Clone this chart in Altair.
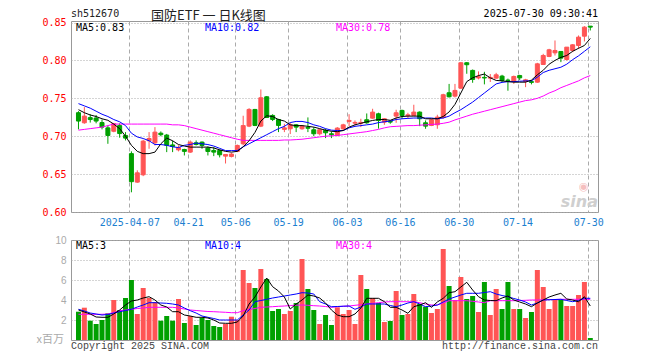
import altair as alt
import pandas as pd

# ---------------- data ----------------
dates = [
    '2025-03-24', '2025-03-25', '2025-03-26', '2025-03-27', '2025-03-28', '2025-03-31',
    '2025-04-01', '2025-04-02', '2025-04-03', '2025-04-07', '2025-04-08', '2025-04-09',
    '2025-04-10', '2025-04-11', '2025-04-14', '2025-04-15', '2025-04-16', '2025-04-17',
    '2025-04-18', '2025-04-21', '2025-04-22', '2025-04-23', '2025-04-24', '2025-04-25',
    '2025-04-28', '2025-04-29', '2025-04-30', '2025-05-06', '2025-05-07', '2025-05-08',
    '2025-05-09', '2025-05-12', '2025-05-13', '2025-05-14', '2025-05-15', '2025-05-16',
    '2025-05-19', '2025-05-20', '2025-05-21', '2025-05-22', '2025-05-23', '2025-05-26',
    '2025-05-27', '2025-05-28', '2025-05-29', '2025-05-30', '2025-06-03', '2025-06-04',
    '2025-06-05', '2025-06-06', '2025-06-09', '2025-06-10', '2025-06-11', '2025-06-12',
    '2025-06-13', '2025-06-16', '2025-06-17', '2025-06-18', '2025-06-19', '2025-06-20',
    '2025-06-23', '2025-06-24', '2025-06-25', '2025-06-26', '2025-06-27', '2025-06-30',
    '2025-07-01', '2025-07-02', '2025-07-03', '2025-07-04', '2025-07-07', '2025-07-08',
    '2025-07-09', '2025-07-10', '2025-07-11', '2025-07-14', '2025-07-15', '2025-07-16',
    '2025-07-17', '2025-07-18', '2025-07-21', '2025-07-22', '2025-07-23', '2025-07-24',
    '2025-07-25', '2025-07-28', '2025-07-29', '2025-07-30',
]

open_ = [
    0.731, 0.7177, 0.7245, 0.724, 0.718, 0.711, 0.7065, 0.714, 0.701, 0.677,
    0.6394, 0.6491, 0.694, 0.6913, 0.704, 0.7015, 0.6885, 0.682, 0.6825, 0.679,
    0.6913, 0.6922, 0.6843, 0.6812, 0.6812, 0.6737, 0.6733, 0.6799, 0.690, 0.7133,
    0.7353, 0.7133, 0.752, 0.7274, 0.722, 0.709, 0.7098, 0.715, 0.7098, 0.7115,
    0.7085, 0.7032, 0.7076, 0.7032, 0.701, 0.7098, 0.7195, 0.7172, 0.7172, 0.7217,
    0.7238, 0.7296, 0.7186, 0.7195, 0.7265, 0.734, 0.7272, 0.7274, 0.7318, 0.7177,
    0.7142, 0.7151, 0.7248, 0.7573, 0.7529, 0.7634, 0.7969, 0.7868, 0.7768, 0.7776,
    0.7766, 0.7766, 0.7793, 0.774, 0.7722, 0.780, 0.7722, 0.772, 0.7713, 0.7946,
    0.8052, 0.810, 0.8118, 0.8012, 0.8131, 0.8197, 0.832, 0.8452,
]
high = [
    0.733, 0.7384, 0.729, 0.728, 0.722, 0.714, 0.7175, 0.717, 0.7054, 0.680,
    0.655, 0.6953, 0.7054, 0.712, 0.7063, 0.703, 0.694, 0.688, 0.6834, 0.6944,
    0.6944, 0.6931, 0.6865, 0.6856, 0.6825, 0.6759, 0.678, 0.689, 0.727, 0.737,
    0.736, 0.7617, 0.753, 0.729, 0.723, 0.7164, 0.7177, 0.716, 0.7142, 0.7248,
    0.712, 0.710, 0.7098, 0.7063, 0.712, 0.7164, 0.729, 0.7208, 0.723, 0.730,
    0.7362, 0.731, 0.7239, 0.7208, 0.7349, 0.735, 0.7309, 0.7415, 0.7327, 0.7208,
    0.723, 0.7283, 0.756, 0.769, 0.769, 0.7978, 0.7978, 0.788, 0.7855, 0.785,
    0.782, 0.7836, 0.781, 0.776, 0.780, 0.781, 0.7757, 0.774, 0.7968, 0.8087,
    0.8153, 0.8263, 0.8118, 0.8175, 0.8215, 0.8329, 0.8452, 0.8452,
]
low = [
    0.709, 0.7164, 0.718, 0.717, 0.709, 0.690, 0.7052, 0.698, 0.6944, 0.626,
    0.6385, 0.6473, 0.6834, 0.6878, 0.700, 0.679, 0.679, 0.680, 0.6746, 0.678,
    0.6878, 0.6834, 0.6746, 0.6737, 0.672, 0.664, 0.672, 0.679, 0.688, 0.712,
    0.7133, 0.712, 0.724, 0.720, 0.7054, 0.7054, 0.7028, 0.7054, 0.7085, 0.7054,
    0.700, 0.701, 0.6975, 0.6975, 0.700, 0.7076, 0.7133, 0.7142, 0.712, 0.7164,
    0.723, 0.710, 0.715, 0.7164, 0.7177, 0.723, 0.7239, 0.7265, 0.7133, 0.7098,
    0.7133, 0.7098, 0.723, 0.7511, 0.7511, 0.7625, 0.7824, 0.7705, 0.775, 0.7684,
    0.7715, 0.7758, 0.7713, 0.760, 0.769, 0.774, 0.7647, 0.7684, 0.7704, 0.794,
    0.8043, 0.8065, 0.7977, 0.7999, 0.8109, 0.8153, 0.825, 0.8395,
]
close = [
    0.720, 0.7265, 0.722, 0.720, 0.712, 0.701, 0.7166, 0.7035, 0.6975, 0.640,
    0.6517, 0.6935, 0.697, 0.7054, 0.702, 0.688, 0.6865, 0.685, 0.680, 0.6922,
    0.6891, 0.6878, 0.6799, 0.679, 0.6755, 0.6759, 0.6764, 0.6878, 0.714, 0.7353,
    0.7142, 0.7507, 0.7247, 0.7221, 0.7142, 0.711, 0.715, 0.712, 0.7133, 0.7105,
    0.7032, 0.7085, 0.7045, 0.702, 0.7107, 0.715, 0.7208, 0.7182, 0.7182, 0.7177,
    0.7318, 0.7208, 0.723, 0.7186, 0.7309, 0.7274, 0.7282, 0.7318, 0.723, 0.7133,
    0.7217, 0.7252, 0.7547, 0.752, 0.7604, 0.7969, 0.7943, 0.7749, 0.7785, 0.7768,
    0.7776, 0.781, 0.7736, 0.7736, 0.7788, 0.777, 0.7744, 0.771, 0.7955, 0.8065,
    0.814, 0.8131, 0.803, 0.8175, 0.8206, 0.8307, 0.8439, 0.8439,
]
ma5 = [
    0.735, 0.731, 0.728, 0.726, 0.723, 0.721, 0.716, 0.710, 0.700, 0.688,
    0.680, 0.677, 0.677, 0.679, 0.690, 0.6975, 0.694, 0.689, 0.687, 0.6856,
    0.6856, 0.6856, 0.6856, 0.6845, 0.682, 0.680, 0.679, 0.680, 0.686, 0.694,
    0.705, 0.720, 0.727, 0.726, 0.722, 0.720, 0.715, 0.714, 0.714, 0.713,
    0.712, 0.710, 0.708, 0.7065, 0.706, 0.7075, 0.712, 0.715, 0.717, 0.719,
    0.7208, 0.722, 0.722, 0.721, 0.724, 0.726, 0.7265, 0.7265, 0.7265, 0.723,
    0.723, 0.723, 0.726, 0.732, 0.742, 0.757, 0.772, 0.777, 0.780, 0.782,
    0.777, 0.7736, 0.773, 0.772, 0.7713, 0.7713, 0.7713, 0.774, 0.781, 0.787,
    0.795, 0.800, 0.804, 0.8065, 0.812, 0.816, 0.8197, 0.829,
]
ma10 = [
    0.743, 0.740, 0.737, 0.733, 0.729, 0.726, 0.722, 0.719, 0.714, 0.704,
    0.699, 0.697, 0.694, 0.689, 0.689, 0.688, 0.686, 0.685, 0.688, 0.689,
    0.691, 0.690, 0.689, 0.687, 0.684, 0.681, 0.681, 0.681, 0.686, 0.690,
    0.694, 0.698, 0.702, 0.706, 0.710, 0.713, 0.718, 0.7195, 0.7195, 0.718,
    0.715, 0.713, 0.710, 0.708, 0.7075, 0.7075, 0.711, 0.713, 0.714, 0.715,
    0.716, 0.718, 0.719, 0.720, 0.722, 0.723, 0.7235, 0.724, 0.724, 0.724,
    0.724, 0.723, 0.724, 0.7265, 0.731, 0.735, 0.740, 0.745, 0.751, 0.757,
    0.763, 0.769, 0.771, 0.772, 0.772, 0.7725, 0.773, 0.773, 0.778, 0.784,
    0.787, 0.789, 0.791, 0.795, 0.801, 0.806, 0.812, 0.818,
]
ma30 = [
    0.708, 0.709, 0.710, 0.711, 0.712, 0.714, 0.716, 0.716, 0.716, 0.716,
    0.716, 0.716, 0.716, 0.716, 0.716, 0.716, 0.715, 0.715, 0.714, 0.712,
    0.710, 0.708, 0.706, 0.704, 0.702, 0.700, 0.698, 0.696, 0.6945, 0.6945,
    0.6945, 0.6945, 0.6945, 0.6945, 0.6945, 0.695, 0.695, 0.6955, 0.696, 0.697,
    0.698, 0.699, 0.700, 0.7005, 0.701, 0.702, 0.703, 0.704, 0.705, 0.706,
    0.7075, 0.709, 0.711, 0.7125, 0.713, 0.7135, 0.714, 0.714, 0.7145, 0.715,
    0.7155, 0.716, 0.717, 0.7185, 0.7215, 0.724, 0.7265, 0.729, 0.731, 0.733,
    0.735, 0.737, 0.739, 0.741, 0.743, 0.745, 0.747, 0.748, 0.750, 0.753,
    0.757, 0.760, 0.764, 0.767, 0.770, 0.773, 0.777, 0.780,
]
volume = [
    2.83, 3.23, 1.93, 1.6, 2.0, 2.67, 4.0, 3.0, 4.2, 6.0,
    2.6, 5.2, 4.2, 3.8, 1.93, 2.4, 1.93, 4.1, 1.7, 2.4,
    1.5, 2.2, 2.0, 1.4, 1.3, 1.6, 2.33, 2.0, 7.0, 5.7,
    5.2, 7.1, 6.1, 2.9, 3.1, 2.6, 2.9, 3.7, 8.1, 5.1,
    3.0, 1.6, 2.5, 1.5, 3.27, 2.6, 3.0, 1.6, 6.5, 5.1,
    4.2, 3.7, 1.8, 1.9, 4.9, 2.5, 2.6, 4.6, 3.6, 3.33,
    2.7, 3.1, 9.1, 5.4, 4.0, 6.3, 4.1, 4.4, 2.8, 5.8,
    2.5, 5.1, 3.1, 5.8, 3.1, 3.1, 2.2, 2.8, 7.0, 5.3,
    3.1, 4.1, 4.03, 3.4, 3.4, 4.5, 5.8, 0.2,
]
vol_ma5 = [
    3.0, 2.8, 2.6, 2.3, 2.27, 2.27, 2.6, 3.0, 3.5, 3.9,
    4.0, 4.2, 4.33, 4.0, 3.5, 3.3, 2.83, 2.83, 2.5, 2.4,
    2.27, 2.27, 2.2, 2.0, 1.7, 1.67, 1.67, 1.8, 2.4, 3.6,
    4.3, 5.3, 6.2, 5.33, 4.9, 4.3, 3.1, 3.6, 4.0, 4.5,
    4.4, 4.2, 3.7, 3.0, 2.5, 2.33, 2.33, 2.6, 3.2, 4.17,
    4.17, 4.17, 3.83, 3.27, 3.27, 3.0, 2.67, 3.33, 3.5, 3.73,
    3.27, 3.8, 4.17, 4.73, 4.83, 5.3, 5.77, 5.0, 4.33, 4.0,
    3.95, 3.93, 4.2, 4.4, 4.0, 3.8, 3.6, 3.33, 3.7, 4.0,
    4.3, 4.5, 4.67, 4.1, 4.0, 3.83, 4.33, 3.4,
]
vol_ma10 = [
    3.07, 2.9, 2.7, 2.6, 2.5, 2.55, 2.7, 2.83, 2.95, 3.07,
    3.3, 3.5, 3.73, 3.73, 3.7, 3.67, 3.6, 3.5, 3.2, 2.93,
    2.7, 2.4, 2.27, 2.15, 2.0, 2.0, 2.0, 2.0, 2.5, 3.0,
    3.83, 3.95, 4.07, 4.2, 4.3, 4.4, 4.5, 4.6, 4.73, 4.7,
    4.6, 3.83, 3.6, 3.33, 3.35, 3.38, 3.4, 3.07, 3.3, 3.6,
    3.6, 3.6, 3.6, 3.45, 3.33, 3.5, 3.7, 3.83, 3.6, 3.33,
    3.4, 3.5, 3.8, 4.1, 4.3, 4.5, 4.67, 4.67, 4.67, 4.75,
    4.83, 4.6, 4.45, 4.33, 4.15, 4.0, 3.8, 3.5, 3.7, 4.0,
    4.03, 4.05, 4.07, 3.95, 3.83, 3.95, 4.17, 4.17,
]
vol_ma30 = [
    2.57, 2.57, 2.57, 2.57, 2.57, 2.6, 2.75, 2.93, 3.0, 3.07,
    3.15, 3.2, 3.27, 3.27, 3.27, 3.27, 3.27, 3.2, 3.1, 3.0,
    2.95, 2.9, 2.85, 2.83, 2.8, 2.77, 2.73, 2.73, 2.93, 3.05,
    3.15, 3.27, 3.3, 3.33, 3.37, 3.4, 3.45, 3.48, 3.5, 3.47,
    3.43, 3.4, 3.35, 3.27, 3.33, 3.37, 3.4, 3.47, 3.53, 3.6,
    3.67, 3.73, 3.8, 3.83, 3.83, 3.83, 3.83, 3.83, 3.73, 3.6,
    3.5, 3.5, 3.7, 3.93, 3.93, 3.93, 3.93, 3.87, 3.8, 3.73,
    3.93, 3.93, 3.93, 3.93, 3.93, 3.95, 3.97, 4.0, 4.0, 4.02,
    4.03, 4.05, 4.07, 4.07, 4.07, 4.07, 4.07, 4.07,
]

tick_dates = ['2025-04-07', '2025-04-21', '2025-05-06', '2025-05-19', '2025-06-03',
              '2025-06-16', '2025-06-30', '2025-07-14', '2025-07-30']
tick_labels = ['2025-04-07', '04-21', '05-06', '05-19', '06-03',
               '06-16', '06-30', '07-14', '07-30']
price_ticks = [0.60, 0.65, 0.70, 0.75, 0.80, 0.85]
vol_ticks = [2, 4, 6, 8, 10]

symbol = 'sh512670'
title_cn = '国防ETF 一 日K线图'
stamp = '2025-07-30 09:30:41'

# ---------------- styling ----------------
UP = '#FF5555'
DOWN = '#00A000'
MONO = 'DejaVu Sans Mono'
W = 527
H_PRICE = 191
H_VOL = 100
GRID_SHIFT = -0.36

n = len(dates)
idx = list(range(n))
direction = ['up' if c >= o else 'down' for o, c in zip(open_, close)]

df = pd.DataFrame({
    'idx': idx, 'date': dates, 'open': open_, 'high': high, 'low': low,
    'close': close, 'dir': direction, 'ma5': ma5, 'ma10': ma10, 'ma30': ma30,
    'vol': volume, 'vma5': vol_ma5, 'vma10': vol_ma10, 'vma30': vol_ma30,
})

tick_idx = [dates.index(d) for d in tick_dates]
tick_vals = [i + GRID_SHIFT for i in tick_idx]
label_arr = [''] * n
for i, l in zip(tick_idx, tick_labels):
    label_arr[i] = l
label_expr = '[' + ','.join("'%s'" % s for s in label_arr) + '][round(datum.value + 0.36)]'

xscale = alt.Scale(domain=[-0.42, n - 1 + 0.46], nice=False, zero=False)
color_scale = alt.Scale(domain=['up', 'down'], range=[UP, DOWN])

x_price = alt.X('idx:Q', scale=xscale, title=None, axis=alt.Axis(
    values=tick_vals, labelExpr=label_expr, labelColor='#1C7FD0', labelFont=MONO,
    labelFontSize=10, domain=False, ticks=False, tickSize=0, labelPadding=5,
    grid=True, gridColor='#AAAAAA', gridDash=[4, 3], gridWidth=1,
    labelFlush=6, labelOverlap=False, minExtent=18, maxExtent=18))

x_vol = alt.X('idx:Q', scale=xscale, title=None, axis=alt.Axis(
    values=tick_vals, labels=False, domain=False, ticks=False, tickSize=0,
    grid=True, gridColor='#AAAAAA', gridDash=[4, 3], gridWidth=1,
    minExtent=0, maxExtent=0))

yscale_p = alt.Scale(domain=[0.60, 0.852], nice=False, zero=False)
yaxis_p = alt.Axis(values=price_ticks, format='.2f', labelColor='#FF0000', labelFont=MONO,
                   labelFontSize=10, domain=False, ticks=False, tickSize=0, labelPadding=5,
                   grid=True, gridColor='#AAAAAA', gridDash=[1, 2], gridWidth=1,
                   minExtent=62, maxExtent=62)
yscale_v = alt.Scale(domain=[0, 10], nice=False, zero=True)
yaxis_v = alt.Axis(values=vol_ticks, format='d', labelColor='#AAAAAA', labelFont='Liberation Sans',
                   labelFontSize=10, domain=False, ticks=False, tickSize=0, labelPadding=5,
                   grid=True, gridColor='#AAAAAA', gridDash=[1, 2], gridWidth=1,
                   minExtent=62, maxExtent=62)


def label(text, x, y, color, size=10, align='left', font=MONO, **kw):
    return alt.Chart(pd.DataFrame({'t': [text]})).mark_text(
        align=align, baseline='middle', font=font, fontSize=size, color=color, **kw
    ).encode(x=alt.value(x), y=alt.value(y), text='t:N')


base = alt.Chart(df)

wick = base.mark_rule(strokeWidth=1).encode(
    x=x_price,
    y=alt.Y('low:Q', scale=yscale_p, axis=yaxis_p, title=None),
    y2='high:Q',
    color=alt.Color('dir:N', scale=color_scale, legend=None),
)
body = base.mark_bar(size=4, strokeWidth=1).encode(
    x=x_price,
    y=alt.Y('open:Q', scale=yscale_p, axis=yaxis_p, title=None),
    y2='close:Q',
    color=alt.Color('dir:N', scale=color_scale, legend=None),
    stroke=alt.Stroke('dir:N', scale=color_scale, legend=None),
)


def ma_line(field, color, yscale, yaxis, xenc):
    return base.mark_line(color=color, strokeWidth=1).encode(
        x=xenc, y=alt.Y(field + ':Q', scale=yscale, axis=yaxis, title=None))


price = alt.layer(
    wick, body,
    ma_line('ma30', '#FF00FF', yscale_p, yaxis_p, x_price),
    ma_line('ma10', '#0000FF', yscale_p, yaxis_p, x_price),
    ma_line('ma5', '#000000', yscale_p, yaxis_p, x_price),
    label('MA5:%.2f' % ma5[-1], 5, 6.5, '#000000'),
    label('MA10:%.2f' % ma10[-1], 134, 6.5, '#0000FF'),
    label('MA30:%.2f' % ma30[-1], 265, 6.5, '#FF00FF'),
    label(symbol, 0, -7.3, '#222222'),
    label(title_cn, 80, -4.8, '#222222', size=13, font='Noto Sans CJK SC'),
    label(stamp, W, -7.3, '#000000', align='right'),
    label('◉', 508, 166, '#F2A5A5', size=11, font='DejaVu Sans', opacity=0.7),
    label('sina', 527, 181, '#CFCFCF', size=16, align='right', font='DejaVu Sans',
          fontStyle='italic', fontWeight='bold'),
).properties(width=W, height=H_PRICE)

vbars = base.mark_bar(size=5).encode(
    x=x_vol,
    y=alt.Y('vol:Q', scale=yscale_v, axis=yaxis_v, title=None),
    color=alt.Color('dir:N', scale=color_scale, legend=None),
)

vol = alt.layer(
    vbars,
    ma_line('vma30', '#FF00FF', yscale_v, yaxis_v, x_vol),
    ma_line('vma10', '#0000FF', yscale_v, yaxis_v, x_vol),
    ma_line('vma5', '#000000', yscale_v, yaxis_v, x_vol),
    label('MA5:%d' % round(vol_ma5[-1]), 5, 6, '#000000'),
    label('MA10:%d' % round(vol_ma10[-1]), 134, 6, '#0000FF'),
    label('MA30:%d' % round(vol_ma30[-1]), 265, 6, '#FF00FF'),
    label('x百万', -7, 100, '#AAAAAA', size=11, align='right', font='Noto Sans CJK SC'),
    label('Copyright 2025 SINA.COM', 0, 106, '#444444', font='Liberation Mono'),
    label('http://finance.sina.com.cn', W, 106, '#444444', align='right', font='Liberation Mono'),
).properties(width=W, height=H_VOL)

chart = alt.vconcat(price, vol, spacing=3).properties(
    padding={'left': 0, 'top': 0, 'right': 0, 'bottom': 0},
    background='white',
).configure_view(stroke='#999999', strokeWidth=1)

chart.save('out.html', embed_options={'renderer': 'svg', 'actions': False})
